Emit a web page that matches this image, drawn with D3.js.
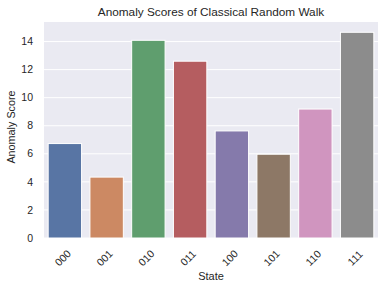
<!DOCTYPE html>
<html>
<head>
<meta charset="utf-8">
<script src="https://cdn.jsdelivr.net/npm/d3@7"></script>
<style>
  body { margin: 0; background: #fff; }
  text { font-family: "Liberation Sans", Arial, sans-serif; fill: #262626; }
</style>
</head>
<body>
<div id="chart"></div>
<script>
// data
var states = ["000", "001", "010", "011", "100", "101", "110", "111"];
var scores = [6.73, 4.34, 14.09, 12.6, 7.63, 5.97, 9.19, 14.66];
var barColors = ["#5875a4", "#cc8963", "#5f9e6e", "#b55d60", "#857aab", "#8d7866", "#d095bf", "#8c8c8c"];
var yTicks = [0, 2, 4, 6, 8, 10, 12, 14];

var width = 385,
  height = 289;
var margin = { left: 44, right: 7, top: 22, bottom: 51 };

var svg = d3.select("#chart").append("svg")
  .attr("width", width)
  .attr("height", height);

var x = d3.scaleBand()
  .domain(states)
  .range([margin.left, width - margin.right])
  .paddingInner(0.2)
  .paddingOuter(0.1);

var y = d3.scaleLinear()
  .domain([0, d3.max(scores) * 1.05])
  .range([height - margin.bottom, margin.top]);

// background
svg.append("rect")
  .attr("x", margin.left)
  .attr("y", margin.top)
  .attr("width", width - margin.left - margin.right)
  .attr("height", height - margin.top - margin.bottom)
  .attr("fill", "#eaeaf2");

// grid lines
svg.append("g")
  .selectAll("line")
  .data(yTicks)
  .enter()
  .append("line")
  .attr("x1", margin.left)
  .attr("x2", width - margin.right)
  .attr("y1", function (d) { return y(d); })
  .attr("y2", function (d) { return y(d); })
  .attr("stroke", "white")
  .attr("stroke-width", 1);

// bars
svg.append("g")
  .selectAll("rect")
  .data(scores)
  .enter()
  .append("rect")
  .attr("x", function (d, i) { return x(states[i]); })
  .attr("width", x.bandwidth())
  .attr("y", function (d) { return y(d); })
  .attr("height", function (d) { return y(0) - y(d); })
  .attr("fill", function (d, i) { return barColors[i]; })
  .attr("stroke", "white")
  .attr("stroke-width", 1);

// y tick labels
svg.append("g")
  .selectAll("text")
  .data(yTicks)
  .enter()
  .append("text")
  .attr("x", 33)
  .attr("y", function (d) { return y(d); })
  .attr("dy", "0.35em")
  .attr("text-anchor", "end")
  .style("font-size", "10.5px")
  .text(function (d) { return d; });

// x tick labels, rotated 45
svg.append("g")
  .selectAll("text")
  .data(states)
  .enter()
  .append("text")
  .attr("transform", function (d) {
    return "translate(" + (x(d) + x.bandwidth() / 2 - 2) + "," + 258 + ") rotate(-45)";
  })
  .attr("text-anchor", "middle")
  .attr("dy", "0.35em")
  .style("font-size", "10.5px")
  .text(function (d) { return d; });

// title
svg.append("text")
  .attr("x", (margin.left + width - margin.right) / 2)
  .attr("y", 15.5)
  .attr("text-anchor", "middle")
  .style("font-size", "11.8px")
  .text("Anomaly Scores of Classical Random Walk");

// axis labels
svg.append("text")
  .attr("x", (margin.left + width - margin.right) / 2)
  .attr("y", 280)
  .attr("text-anchor", "middle")
  .style("font-size", "11px")
  .text("State");

svg.append("text")
  .attr("transform", "translate(15," + 127 + ") rotate(-90)")
  .attr("text-anchor", "middle")
  .style("font-size", "10.8px")
  .text("Anomaly Score");
</script>
</body>
</html>
